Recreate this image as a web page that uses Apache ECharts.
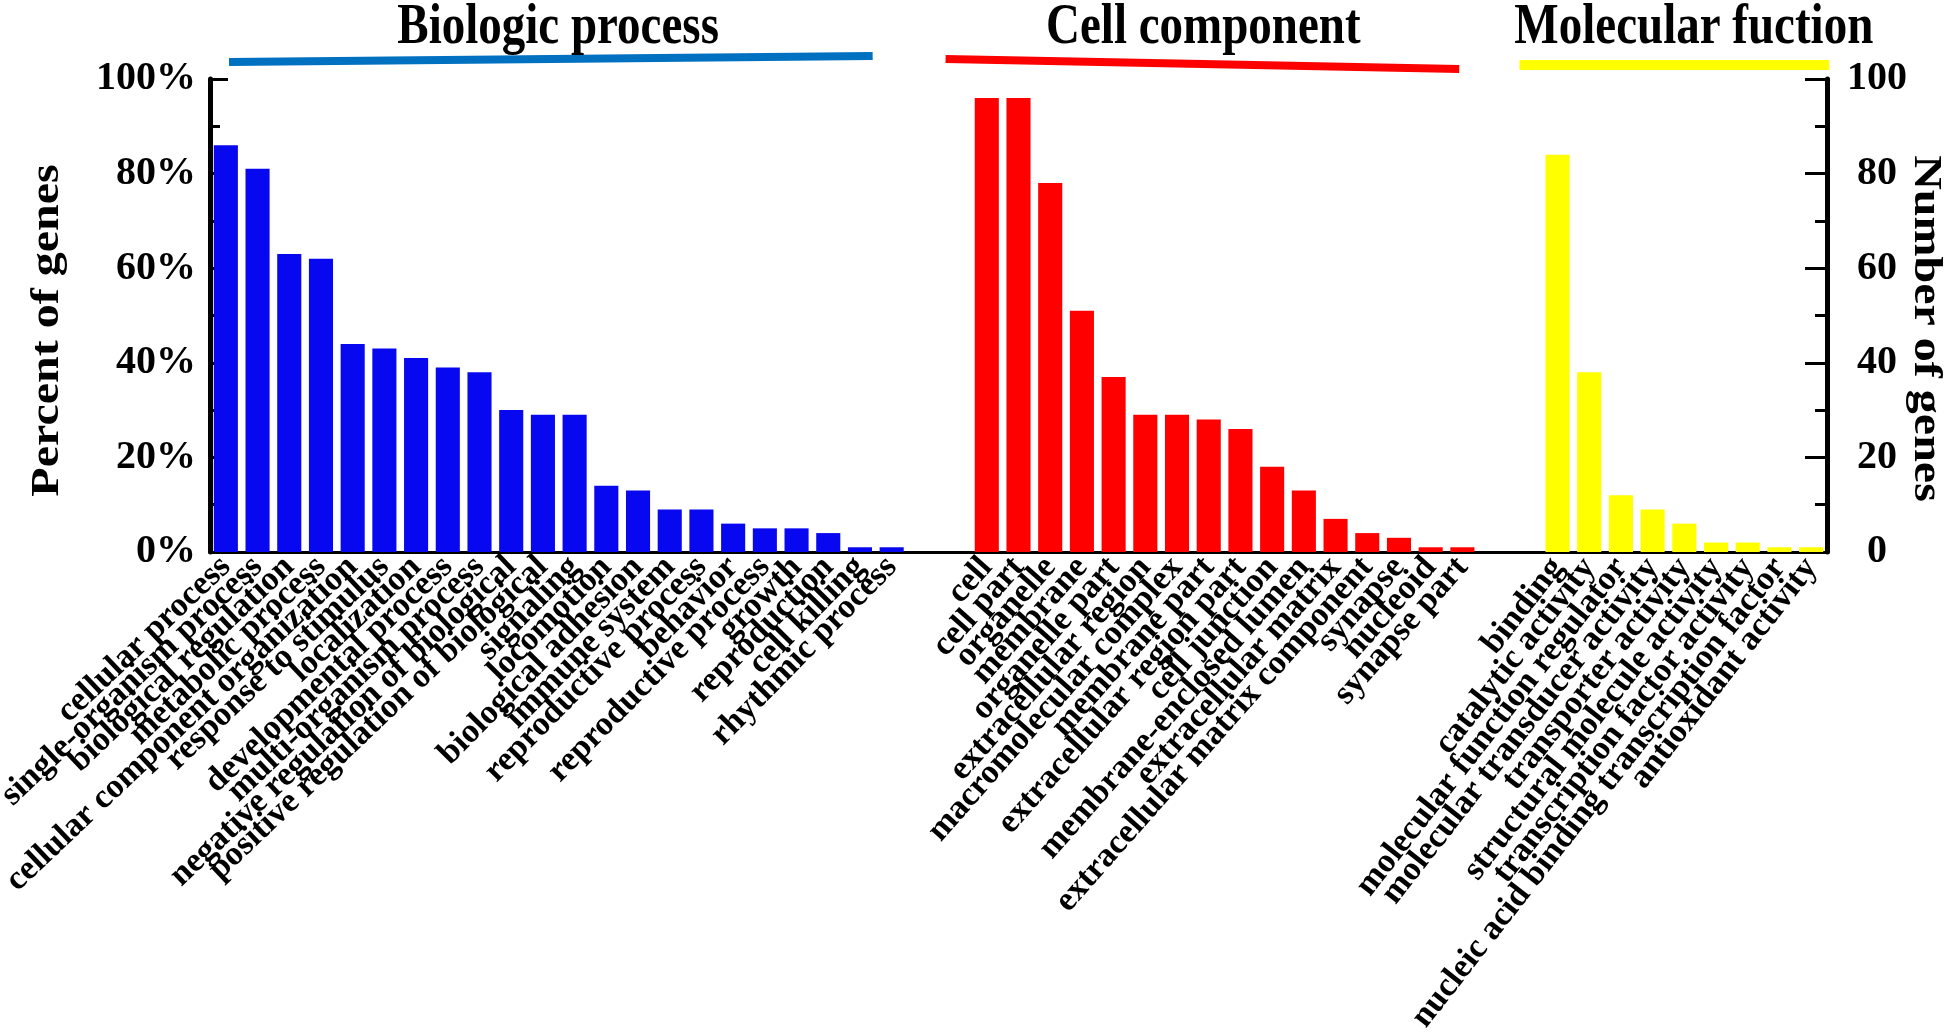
<!DOCTYPE html>
<html>
<head>
<meta charset="utf-8">
<title>GO classification</title>
<script src="https://cdn.jsdelivr.net/npm/echarts@6/dist/echarts.min.js"></script>
<style>
  html, body { margin: 0; padding: 0; background: #fff; }
  #chart { width: 1960px; height: 1036px; }
</style>
</head>
<body>
<div id="chart"></div>
<script>
// Biologic process
const bpNames = [
  "cellular process", "single-organism process", "biological regulation",
  "metabolic process", "cellular component organization", "response to stimulus",
  "localization", "developmental process", "multi-organism process",
  "negative regulation of biological", "positive regulation of biological",
  "signaling", "locomotion", "biological adhesion", "immune system",
  "reproductive process", "behavior", "reproductive process", "growth",
  "reproduction", "cell killing", "rhythmic process"
];
const bpValues = [86, 81, 63, 62, 44, 43, 41, 39, 38, 30, 29, 29, 14, 13, 9, 9, 6, 5, 5, 4, 1, 1];

// Cell component
const ccNames = [
  "cell", "cell part", "organelle", "membrane", "organelle part",
  "extracellular region", "macromolecular complex", "membrane part",
  "extracellular region part", "cell junction", "membrane-enclosed lumen",
  "extracellular matrix", "extracellular matrix component", "synapse",
  "nucleoid", "synapse part"
];
const ccValues = [96, 96, 78, 51, 37, 29, 29, 28, 26, 18, 13, 7, 4, 3, 1, 1];

// Molecular fuction
const mfNames = [
  "binding", "catalytic activity", "molecular function regulator",
  "molecular transducer activity", "transporter activity",
  "structural molecule activity", "transcription factor activity",
  "nucleic acid binding transcription factor", "antioxidant activity"
];
const mfValues = [84, 38, 12, 9, 6, 2, 2, 1, 1];

const percentTicks = ["0%", "20%", "40%", "60%", "80%", "100%"];
const countTicks = ["0", "20", "40", "60", "80", "100"];

// two empty slots between the groups
const GAP = 2;
const ccStart = bpNames.length + GAP;
const mfStart = ccStart + ccNames.length + GAP;
const categories = [].concat(
  bpNames, Array(GAP).fill(""), ccNames, Array(GAP).fill(""), mfNames
);

function place(values, start) {
  return categories.map((_, i) =>
    i >= start && i < start + values.length ? values[i - start] : null
  );
}

const FONT = "Liberation Serif";

// the category labels in the source get a bit steeper towards the right,
// so they are split over a few overlaid category axes with their own angle
const labelSegments = [
  { from: 0, to: 10, rotate: 43.5 },
  { from: 11, to: 23, rotate: 45.5 },
  { from: 24, to: 41, rotate: 48.5 },
  { from: 42, to: 50, rotate: 52 }
];

const xAxes = labelSegments.map((seg, k) => ({
  type: "category",
  position: "bottom",
  data: categories,
  axisLine: { show: k === 0, lineStyle: { color: "#000", width: 3 } },
  axisTick: { show: false },
  axisLabel: {
    interval: 0,
    rotate: seg.rotate,
    margin: 10,
    color: "#000",
    fontFamily: FONT,
    fontWeight: "bold",
    fontSize: 34,
    formatter: (value, index) => (index >= seg.from && index <= seg.to ? value : "")
  }
}));

const chart = echarts.init(document.getElementById("chart"));

const barSeries = (name, color, values, start) => ({
  name: name,
  type: "bar",
  xAxisIndex: 0,
  data: place(values, start),
  barWidth: "76%",
  barGap: "-100%",
  itemStyle: { color: color }
});

chart.setOption({
  animation: false,
  backgroundColor: "#fff",
  grid: { left: 210, right: 133, top: 79, bottom: 484, outerBoundsMode: "none" },
  xAxis: xAxes,
  yAxis: [
    {
      type: "value",
      position: "left",
      min: 0,
      max: 100,
      interval: 20,
      axisLine: { show: true, lineStyle: { color: "#000", width: 5 } },
      axisTick: { show: true, inside: true, length: 18, lineStyle: { color: "#000", width: 3 } },
      minorTick: { show: true, splitNumber: 2, length: 10, lineStyle: { color: "#000", width: 3 } },
      splitLine: { show: false },
      axisLabel: {
        margin: 14,
        color: "#000",
        fontFamily: FONT,
        fontWeight: "bold",
        fontSize: 40,
        formatter: v => percentTicks[v / 20]
      }
    },
    {
      type: "value",
      position: "right",
      min: 0,
      max: 100,
      interval: 20,
      axisLine: { show: true, lineStyle: { color: "#000", width: 5 } },
      axisTick: { show: true, inside: true, length: 22, lineStyle: { color: "#000", width: 3 } },
      minorTick: { show: true, splitNumber: 2, length: 12, lineStyle: { color: "#000", width: 3 } },
      splitLine: { show: false },
      axisLabel: {
        margin: 50,
        align: "center",
        color: "#000",
        fontFamily: FONT,
        fontWeight: "bold",
        fontSize: 40,
        formatter: v => countTicks[v / 20]
      }
    }
  ],
  series: [
    barSeries("Biologic process", "#0808f0", bpValues, 0),
    barSeries("Cell component", "#ff0000", ccValues, ccStart),
    barSeries("Molecular fuction", "#ffff00", mfValues, mfStart)
  ]
});

// positions taken from the axes
const x0 = chart.convertToPixel({ xAxisIndex: 0 }, 0);
const step = chart.convertToPixel({ xAxisIndex: 0 }, 1) - x0;
const xAt = i => x0 + i * step;
const plotTop = chart.convertToPixel({ yAxisIndex: 0 }, 100);
const plotBottom = chart.convertToPixel({ yAxisIndex: 0 }, 0);
const plotLeft = xAt(-0.5);
const plotRight = xAt(categories.length - 0.5);
const midY = (plotTop + plotBottom) / 2;

// group headers: coloured bar + title
const headers = [
  { text: "Biologic process", color: "#0070c0", from: 0.1, to: 20.4, dy1: -17, dy2: -23, center: 10.48, width: 8 },
  { text: "Cell component", color: "#ff0000", from: 22.7, to: 38.9, dy1: -20, dy2: -10, center: 30.83, width: 8 },
  { text: "Molecular fuction", color: "#ffff00", from: 40.8, to: 50.57, dy1: -14, dy2: -14, center: 46.3, width: 10 }
];

const graphic = [];
headers.forEach(h => {
  graphic.push({
    type: "line",
    shape: { x1: xAt(h.from), y1: plotTop + h.dy1, x2: xAt(h.to), y2: plotTop + h.dy2 },
    style: { stroke: h.color, lineWidth: h.width }
  });
  graphic.push({
    type: "text",
    x: xAt(h.center),
    y: plotTop - 51,
    scaleY: 1.22,
    style: {
      text: h.text,
      x: 0,
      y: 0,
      font: 'bold 47px "Liberation Serif"',
      textAlign: "center",
      textVerticalAlign: "middle",
      fill: "#000"
    }
  });
});

// axis titles, drawn a little stretched along their length like the source figure
const axisTitles = [
  { text: "Percent of genes", x: plotLeft - 162, y: midY + 15, rotation: Math.PI / 2 },
  { text: "Number of genes", x: plotRight + 98, y: midY + 13, rotation: -Math.PI / 2 }
];
axisTitles.forEach(t => {
  graphic.push({
    type: "text",
    x: t.x,
    y: t.y,
    rotation: t.rotation,
    scaleX: 1.2,
    style: {
      text: t.text,
      x: 0,
      y: 0,
      font: 'bold 40px "Liberation Serif"',
      textAlign: "center",
      textVerticalAlign: "middle",
      fill: "#000"
    }
  });
});

chart.setOption({ graphic: graphic });
</script>
</body>
</html>
